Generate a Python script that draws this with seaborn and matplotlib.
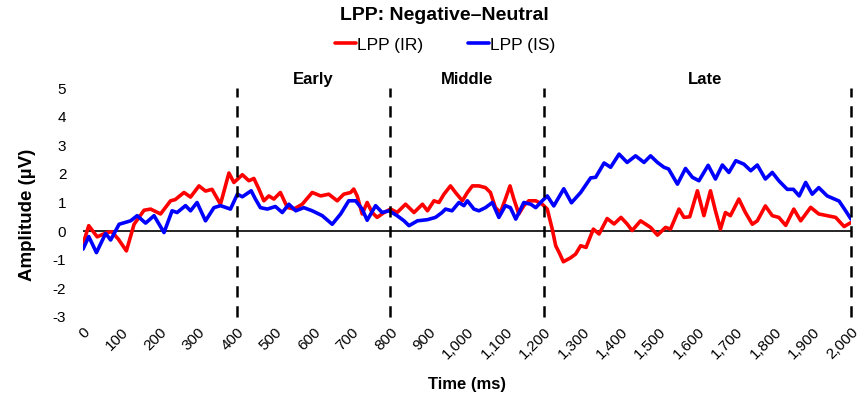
import numpy as np
import pandas as pd
import matplotlib
matplotlib.use("Agg")
import matplotlib.pyplot as plt
import matplotlib.transforms as mtransforms
import seaborn as sns

# LPP (IR) - red
ir_time = [0, 15, 37, 62, 75, 92, 113, 133, 159, 176, 202, 228, 240, 263, 280, 302, 319, 336, 358, 380,
           393, 415, 432, 445, 458, 471, 484, 497, 514, 532, 549, 571, 597, 619, 640, 662, 679, 697, 705, 714,
           727, 740, 753, 766, 784, 801, 818, 840, 862, 884, 897, 914, 927, 940, 957, 970, 988, 1001, 1014, 1031,
           1048, 1061, 1074, 1087, 1100, 1112, 1122, 1135, 1148, 1161, 1179, 1196, 1209, 1222, 1231, 1240, 1251, 1270, 1283, 1296,
           1310, 1329, 1344, 1365, 1383, 1401, 1417, 1430, 1452, 1478, 1496, 1517, 1530, 1552, 1565, 1580, 1600, 1617, 1634, 1647,
           1660, 1673, 1686, 1708, 1725, 1743, 1756, 1777, 1795, 1812, 1830, 1851, 1869, 1895, 1916, 1938, 1960, 1982, 2000]
ir_amp = [-0.45, 0.19, -0.2, -0.05, -0.02, -0.28, -0.69, 0.24, 0.73, 0.77, 0.6, 1.06, 1.1, 1.35, 1.19, 1.58, 1.4, 1.46, 0.94, 2.03,
          1.7, 1.97, 1.76, 1.84, 1.47, 1.06, 1.23, 1.12, 1.35, 0.83, 0.77, 0.94, 1.35, 1.23, 1.29, 1.06, 1.29, 1.35, 1.47, 1.23,
          0.6, 1.0, 0.65, 0.48, 0.65, 0.77, 0.65, 0.94, 0.65, 0.94, 0.71, 1.06, 1.0, 1.29, 1.58, 1.35, 1.06, 1.35, 1.58, 1.58,
          1.52, 1.35, 0.82, 0.65, 1.12, 1.58, 1.12, 0.6, 0.89, 1.06, 1.06, 0.94, 0.77, 0.07, -0.51, -0.75, -1.07, -0.93, -0.8, -0.51,
          -0.57, 0.07, -0.1, 0.44, 0.25, 0.48, 0.25, 0.02, 0.36, 0.13, -0.14, 0.13, 0.07, 0.77, 0.48, 0.5, 1.41, 0.54, 1.41, 0.71,
          0.07, 0.65, 0.54, 1.12, 0.65, 0.24, 0.36, 0.88, 0.54, 0.48, 0.2, 0.77, 0.36, 0.83, 0.6, 0.54, 0.48, 0.16, 0.3]

# LPP (IS) - blue
is_time = [0, 15, 35, 59, 72, 94, 124, 141, 163, 185, 211, 232, 245, 267, 280, 297, 319, 341, 358, 384,
           402, 415, 438, 449, 462, 480, 501, 519, 536, 554, 575, 597, 623, 649, 671, 692, 710, 727, 740, 762,
           779, 797, 818, 836, 849, 871, 897, 918, 935, 944, 961, 979, 992, 1001, 1018, 1031, 1048, 1066, 1083, 1100,
           1113, 1127, 1148, 1166, 1179, 1196, 1209, 1226, 1252, 1272, 1296, 1322, 1335, 1357, 1374, 1396, 1417, 1439, 1461, 1478,
           1496, 1513, 1525, 1548, 1569, 1587, 1604, 1628, 1647, 1665, 1682, 1700, 1721, 1739, 1756, 1777, 1795, 1812, 1834, 1850,
           1865, 1882, 1899, 1916, 1938, 1969, 1986, 2000]
is_amp = [-0.63, -0.19, -0.75, -0.08, -0.31, 0.24, 0.36, 0.54, 0.28, 0.54, -0.05, 0.71, 0.65, 0.89, 0.71, 1.0, 0.36, 0.82, 0.89, 0.77,
          1.29, 1.2, 1.41, 1.12, 0.82, 0.77, 0.86, 0.65, 0.94, 0.71, 0.82, 0.71, 0.54, 0.24, 0.6, 1.06, 1.06, 0.77, 0.38, 0.89,
          0.65, 0.71, 0.54, 0.36, 0.19, 0.36, 0.4, 0.48, 0.65, 0.77, 0.71, 1.0, 0.89, 1.06, 0.77, 0.71, 0.82, 1.0, 0.48, 0.89,
          0.82, 0.42, 1.0, 0.94, 0.82, 1.06, 1.23, 0.88, 1.48, 0.99, 1.35, 1.86, 1.88, 2.38, 2.23, 2.69, 2.4, 2.63, 2.4, 2.63,
          2.4, 2.23, 2.17, 1.64, 2.19, 1.88, 1.76, 2.3, 1.82, 2.31, 2.05, 2.46, 2.34, 2.11, 2.31, 1.82, 2.05, 1.76, 1.46, 1.46,
          1.23, 1.7, 1.29, 1.52, 1.23, 1.05, 0.71, 0.42]

series_names = ['LPP (IR)', 'LPP (IS)']
window_bounds = [400, 800, 1200, 2000]
window_labels = ['Early', 'Middle', 'Late']
window_label_x = [600, 1000, 1620]
x_ticks = list(range(0, 2001, 100))
x_tick_labels = ['{:,}'.format(t) for t in x_ticks]
y_ticks = list(range(-3, 6))

df = pd.concat([
    pd.DataFrame({'time': ir_time, 'amp': ir_amp, 'series': series_names[0]}),
    pd.DataFrame({'time': is_time, 'amp': is_amp, 'series': series_names[1]}),
])

sns.set_style('white')
plt.rcParams['font.family'] = ['Liberation Sans', 'DejaVu Sans']
plt.rcParams['axes.unicode_minus'] = False
plt.rcParams['text.color'] = 'black'
plt.rcParams['xtick.color'] = 'black'
plt.rcParams['ytick.color'] = 'black'

fig = plt.figure(figsize=(8.63, 4.05), dpi=100)
ax = fig.add_axes([83/863, 1 - 317/405, (851 - 83)/863, (317 - 88)/405])

sns.lineplot(data=df, x='time', y='amp', hue='series', estimator=None, sort=False,
             palette={'LPP (IR)': '#ff0000', 'LPP (IS)': '#0000ff'}, linewidth=2.6, ax=ax, zorder=3,
             solid_joinstyle='round', solid_capstyle='round')

ax.axhline(0, color='black', linewidth=1.2, zorder=2)
for b in window_bounds:
    ax.axvline(b, color='black', linewidth=1.8, linestyle=(0, (4.5, 3.5)), clip_on=False, zorder=4)

ax.set_xlim(0, 2000)
ax.set_ylim(-3, 5)
ax.set_xticks(x_ticks)
ax.set_xticklabels(x_tick_labels, rotation=45, ha='right', rotation_mode='anchor', fontsize=11)
ax.set_yticks(y_ticks)
ax.set_yticklabels([str(v) for v in y_ticks], fontsize=11)
ax.tick_params(axis='both', length=0)
ax.tick_params(axis='y', pad=12)
ax.tick_params(axis='x', pad=6)
for s in ax.spines.values():
    s.set_visible(False)
ax.set_xlabel('')
ax.set_ylabel('')

trans = mtransforms.blended_transform_factory(ax.transData, ax.transAxes)
for lab, xp in zip(window_labels, window_label_x):
    ax.text(xp, 1.035, lab, transform=trans, ha='center', va='center', fontsize=12, fontweight='bold')

fig.text(444/863, 1 - 16/405, 'LPP: Negative\u2013Neutral', ha='center', va='center', fontsize=14, fontweight='bold')
fig.text(467/863, 1 - 385/405, 'Time (ms)', ha='center', va='center', fontsize=12, fontweight='bold')
fig.text(28/863, 1 - 215/405, 'Amplitude (\u00b5V)', ha='center', va='center', rotation=90, fontsize=13.5, fontweight='bold')

handles, labels = ax.get_legend_handles_labels()
ax.get_legend().remove()
fig.legend(handles, labels, loc='center', bbox_to_anchor=(445/863, 1 - 45/405), ncol=2, frameon=False,
           fontsize=12.5, handlelength=1.2, handletextpad=0.05, columnspacing=2.6)

fig.savefig('out.png', dpi=100)
